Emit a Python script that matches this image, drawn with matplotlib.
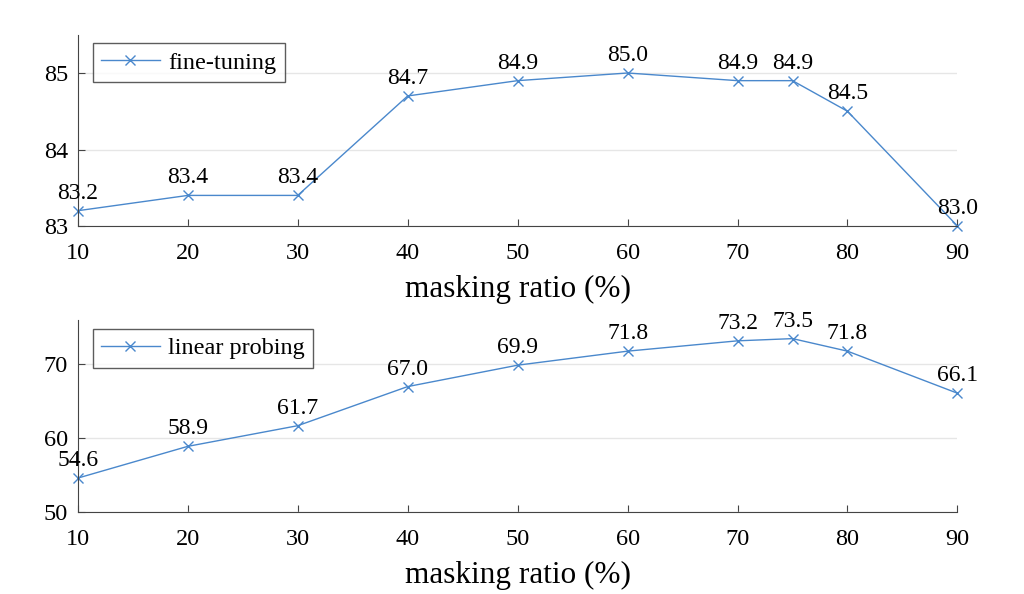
import matplotlib
matplotlib.use("Agg")
import matplotlib.pyplot as plt

ratio = [10, 20, 30, 40, 50, 60, 70, 75, 80, 90]
fine_tuning = [83.2, 83.4, 83.4, 84.7, 84.9, 85.0, 84.9, 84.9, 84.5, 83.0]
linear_probing = [54.6, 58.9, 61.7, 67.0, 69.9, 71.8, 73.2, 73.5, 71.8, 66.1]
xticks = [10, 20, 30, 40, 50, 60, 70, 80, 90]

plt.rcParams['font.family'] = ['Liberation Serif', 'DejaVu Serif']
col = '#4a88cc'

fig = plt.figure(figsize=(10.24, 5.94), dpi=100)
ax1 = fig.add_axes([0.076, 0.6195, 0.859, 0.322])
ax2 = fig.add_axes([0.076, 0.138, 0.859, 0.323])

def panel(ax, y, label, ylim, yticks):
    ax.plot(ratio, y, color=col, marker='x', markersize=7, linewidth=1.0,
            label=label, clip_on=False)
    for xv, yv in zip(ratio, y):
        ax.annotate('%.1f' % yv, (xv, yv), xytext=(0, 5), textcoords='offset points',
                    ha='center', va='bottom', fontsize=17)
    ax.set_xlim(10, 90)
    ax.set_ylim(*ylim)
    ax.set_xticks(xticks)
    ax.set_yticks(yticks)
    ax.tick_params(direction='in', labelsize=17.5, length=5, color='#444444')
    ax.tick_params(axis='x', pad=12)
    ax.tick_params(axis='y', pad=7)
    ax.grid(axis='y', color='#e6e6e6', linewidth=1)
    ax.set_axisbelow(True)
    for s in ['top', 'right']:
        ax.spines[s].set_visible(False)
    for s in ['left', 'bottom']:
        ax.spines[s].set_color('#444444')
    ax.set_xlabel('masking ratio (%)', fontsize=22.5, labelpad=8)
    leg = ax.legend(loc='upper left', fontsize=17.5, fancybox=False, edgecolor='#333333',
                    handlelength=2.4, handletextpad=0.35, borderpad=0.35,
                    borderaxespad=0, bbox_to_anchor=(0.017, 0.955))
    leg.get_frame().set_linewidth(1.0)

panel(ax1, fine_tuning, 'fine-tuning', (83, 85.5), [83, 84, 85])
panel(ax2, linear_probing, 'linear probing', (50, 76), [50, 60, 70])

fig.savefig('out.png', dpi=100)
